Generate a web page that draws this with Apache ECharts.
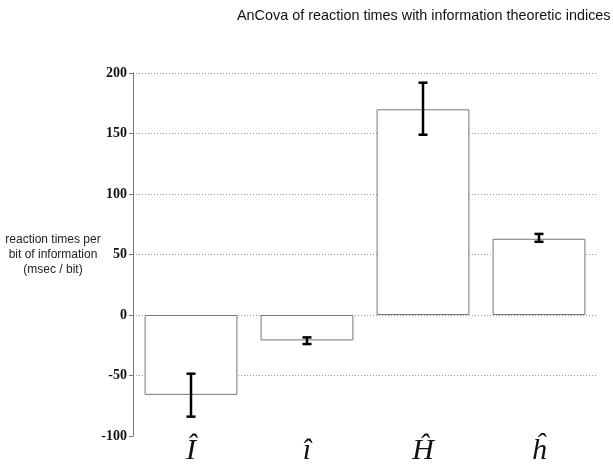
<!DOCTYPE html>
<html><head><meta charset="utf-8">
<script src="https://cdn.jsdelivr.net/npm/echarts@6/dist/echarts.min.js"></script>
<style>html,body{margin:0;padding:0;background:#fff}#c{width:613px;height:466px}</style>
</head><body><div id="c"></div>
<script>
const categories = ['Î', 'î', 'Ĥ', 'ĥ'];
const values = [-66, -21, 170, 63];
const errLow = [-84, -24, 149, 60.5];
const errHigh = [-48.5, -18.5, 192, 67];
const yTicks = [-100, -50, 0, 50, 100, 150, 200];

const chart = echarts.init(document.getElementById('c'));
chart.setOption({
  animation: false,
  backgroundColor: '#fff',
  title: {
    text: 'AnCova of reaction times with information theoretic indices',
    left: 237, top: 9, padding: 0,
    textStyle: {fontFamily: 'Liberation Sans', fontSize: 14.4, fontWeight: 'normal', color: '#111'}
  },
  graphic: [{
    type: 'text', x: 53, y: 232,
    style: {
      text: 'reaction times per\nbit of information\n(msec / bit)',
      align: 'center',
      font: '12px "Liberation Sans"', fill: '#222', lineHeight: 15
    }
  }],
  grid: {left: 133, right: 16, top: 73, bottom: 28},
  xAxis: {
    type: 'category', data: categories,
    axisLine: {show: false, onZero: false},
    axisTick: {show: false},
    axisLabel: {fontFamily: 'Liberation Serif', fontStyle: 'italic', fontSize: 30, color: '#111', margin: 0}
  },
  yAxis: {
    type: 'value', min: yTicks[0], max: yTicks[yTicks.length - 1], interval: 50,
    axisLine: {show: true, lineStyle: {color: '#777', width: 1}},
    axisTick: {show: true, length: 4, lineStyle: {color: '#777'}},
    axisLabel: {fontFamily: 'Liberation Serif', fontWeight: 'bold', fontSize: 14, color: '#111', margin: 6},
    splitLine: {show: true, lineStyle: {type: [1, 2], color: ['rgba(0,0,0,0)', '#999', '#999', '#999', '#999', '#999', '#999']}}
  },
  series: [{
    type: 'bar', data: values, barCategoryGap: '20%',
    itemStyle: {color: '#fff', borderColor: '#777', borderWidth: 1}
  }, {
    type: 'custom',
    data: categories.map((c, i) => [i, errLow[i], errHigh[i]]),
    renderItem: function (params, api) {
      const lo = api.coord([api.value(0), api.value(1)]);
      const hi = api.coord([api.value(0), api.value(2)]);
      const hw = 4.5;
      const st = {stroke: '#000', lineWidth: 2.5};
      return {type: 'group', children: [
        {type: 'line', shape: {x1: lo[0], y1: lo[1], x2: hi[0], y2: hi[1]}, style: st},
        {type: 'line', shape: {x1: lo[0] - hw, y1: lo[1], x2: lo[0] + hw, y2: lo[1]}, style: st},
        {type: 'line', shape: {x1: hi[0] - hw, y1: hi[1], x2: hi[0] + hw, y2: hi[1]}, style: st}
      ]};
    },
    z: 5
  }]
});
</script></body></html>
